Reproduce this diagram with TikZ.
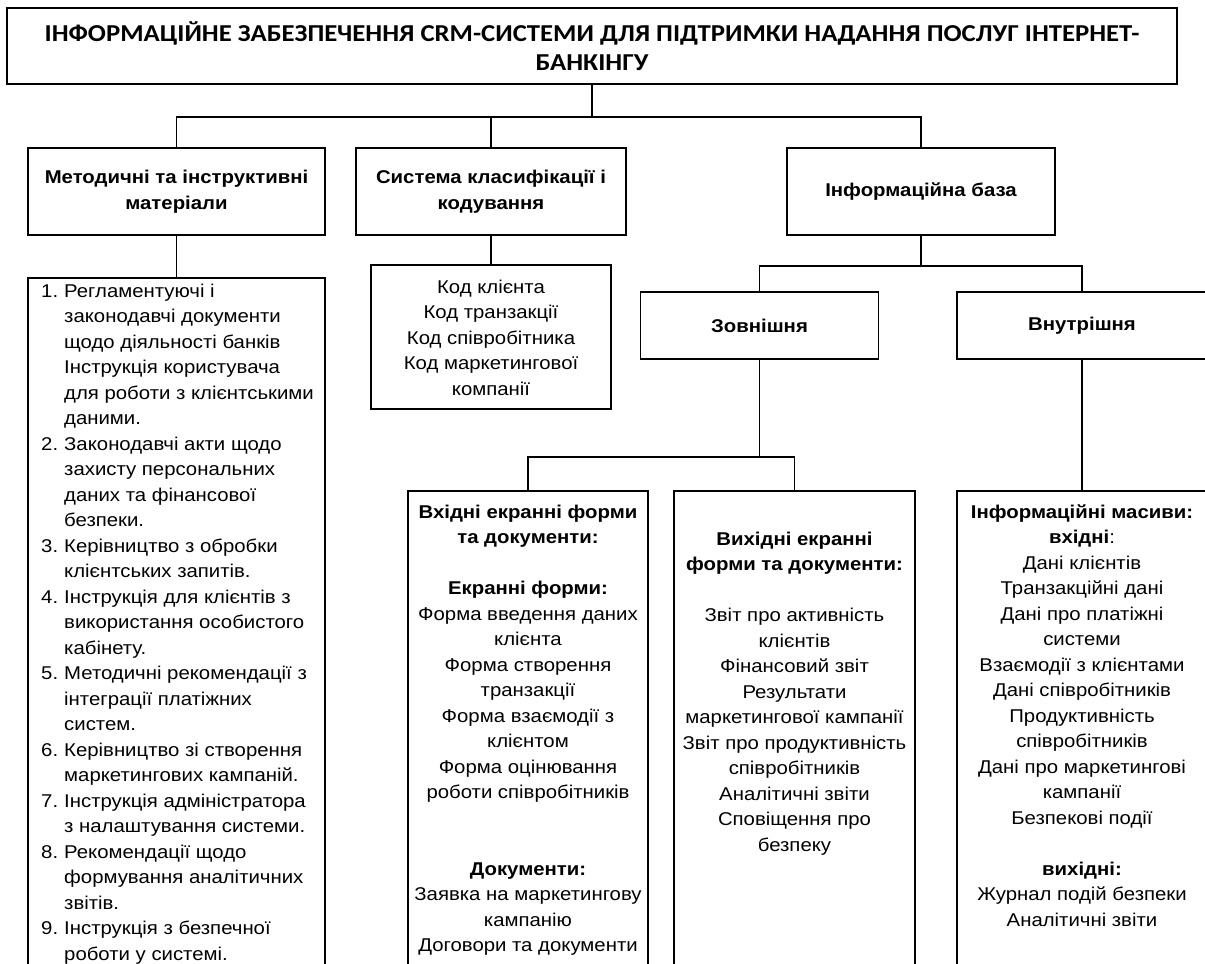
\documentclass[tikz,border=0pt]{standalone}
\usepackage{fontspec}
\setmainfont[FakeStretch=1.1]{Liberation Sans}
\newfontfamily\titlefont[FakeStretch=1.1]{Carlito}
\usetikzlibrary{positioning}

\newcommand{\punkt}[1]{\makebox[23pt][l]{#1}}
\newcommand{\vidst}{\hspace*{23pt}}

\tikzset{
  box/.style={draw, line width=1.6pt, inner sep=0pt},
  txt/.style={align=center, inner sep=0pt, anchor=north},
  head/.style={font=\fontsize{18.5}{25.5}\selectfont\bfseries},
  link/.style={line width=1.6pt},
}

\begin{document}
\begin{tikzpicture}[x=1pt, y=-1pt, font=\fontsize{18.5}{25.5}\selectfont]
        \useasboundingbox[fill=white] (0,0) rectangle (1205,964);
        \clip (0,0) rectangle (1205,964);

        % title
        \node[box, minimum width=1170pt, minimum height=76pt, align=center,
              font=\fontsize{24.3}{29}\titlefont\bfseries] (title) at (592,46)
              {ІНФОРМАЦІЙНЕ ЗАБЕЗПЕЧЕННЯ CRM-СИСТЕМИ ДЛЯ ПІДТРИМКИ НАДАННЯ ПОСЛУГ ІНТЕРНЕТ-\\БАНКІНГУ};

        % second level
        \node[box, head, minimum width=297pt, minimum height=87pt, align=center] (metod) at (176.5,191.5) {Методичні та інструктивні\\матеріали};
        \node[box, head, minimum width=270pt, minimum height=87pt, align=center] (klas) at (491,191.5) {Система класифікації і\\кодування};
        \node[box, head, minimum width=268pt, minimum height=87pt, align=center] (infbase) at (921,191.5) {Інформаційна база};

        \node[box, minimum width=240pt, minimum height=144pt] (kod) at (491,337) {};
        \node[txt] (kodtxt) at (491,279.5) {Код клієнта\\Код транзакції\\Код співробітника\\Код маркетингової\\компанії};

        \node[box, minimum width=297pt, minimum height=760pt, anchor=north] (spysok) at (176.5,277) {};
        \node[txt, anchor=north west, align=left] (spysoktxt) at (41,283.5) {%
            \punkt{1.}Регламентуючі і\\
            \vidst законодавчі документи\\
            \vidst щодо діяльності банків\\
            \vidst Інструкція користувача\\
            \vidst для роботи з клієнтськими\\
            \vidst даними.\\
            \punkt{2.}Законодавчі акти щодо\\
            \vidst захисту персональних\\
            \vidst даних та фінансової\\
            \vidst безпеки.\\
            \punkt{3.}Керівництво з обробки\\
            \vidst клієнтських запитів.\\
            \punkt{4.}Інструкція для клієнтів з\\
            \vidst використання особистого\\
            \vidst кабінету.\\
            \punkt{5.}Методичні рекомендації з\\
            \vidst інтеграції платіжних\\
            \vidst систем.\\
            \punkt{6.}Керівництво зі створення\\
            \vidst маркетингових кампаній.\\
            \punkt{7.}Інструкція адміністратора\\
            \vidst з налаштування системи.\\
            \punkt{8.}Рекомендації щодо\\
            \vidst формування аналітичних\\
            \vidst звітів.\\
            \punkt{9.}Інструкція з безпечної\\
            \vidst роботи у системі.};

        % information base
        \node[box, head, minimum width=238pt, minimum height=67pt] (zovn) at (759.5,325.5) {Зовнішня};
        \node[box, head, minimum width=250pt, minimum height=67pt] (vnutr) at (1082,325.5) {Внутрішня};

        \node[box, minimum width=240pt, minimum height=520pt, anchor=north] (vhid) at (528,490) {};
        \node[txt] (vhidtxt) at (528,504.5) {%
            \textbf{Вхідні екранні форми}\\
            \textbf{та документи:}\\[25.5pt]
            \textbf{Екранні форми:}\\
            Форма введення даних\\
            клієнта\\
            Форма створення\\
            транзакції\\
            Форма взаємодії з\\
            клієнтом\\
            Форма оцінювання\\
            роботи співробітників\\[51pt]
            \textbf{Документи:}\\
            Заявка на маркетингову\\
            кампанію\\
            Договори та документи};

        \node[box, minimum width=241pt, minimum height=520pt, anchor=north] (vyhid) at (794.5,490) {};
        \node[txt] (vyhidtxt) at (794.5,531.5) {%
            \textbf{Вихідні екранні}\\
            \textbf{форми та документи:}\\[25.5pt]
            Звіт про активність\\
            клієнтів\\
            Фінансовий звіт\\
            Результати\\
            маркетингової кампанії\\
            Звіт про продуктивність\\
            співробітників\\
            Аналітичні звіти\\
            Сповіщення про\\
            безпеку};

        \node[box, minimum width=250pt, minimum height=520pt, anchor=north] (masyvy) at (1082,490) {};
        \node[txt] (masyvytxt) at (1082,504.5) {%
            \textbf{Інформаційні масиви:}\\
            \textbf{вхідні}:\\
            Дані клієнтів\\
            Транзакційні дані\\
            Дані про платіжні\\
            системи\\
            Взаємодії з клієнтами\\
            Дані співробітників\\
            Продуктивність\\
            співробітників\\
            Дані про маркетингові\\
            кампанії\\
            Безпекові події\\[25.5pt]
            \textbf{вихідні:}\\
            Журнал подій безпеки\\
            Аналітичні звіти};

        % connectors
        \coordinate (j1) at (592,117);
        \coordinate (j2) at (921,266);
        \coordinate (j3) at (759.5,457);
        \draw[link] (title.south) -- (j1);
        \draw[link] (metod.north) |- (j1) -| (infbase.north);
        \draw[link] (klas.north) -- (klas.north |- j1);
        \draw[link] (metod.south) -- (spysok.north);
        \draw[link] (klas.south) -- (kod.north);
        \draw[link] (infbase.south) -- (j2);
        \draw[link] (zovn.north) |- (j2) -| (vnutr.north);
        \draw[link] (zovn.south) -- (j3);
        \draw[link] (vhid.north) |- (j3) -| (vyhid.north);
        \draw[link] (vnutr.south) -- (masyvy.north);
\end{tikzpicture}
\end{document}
